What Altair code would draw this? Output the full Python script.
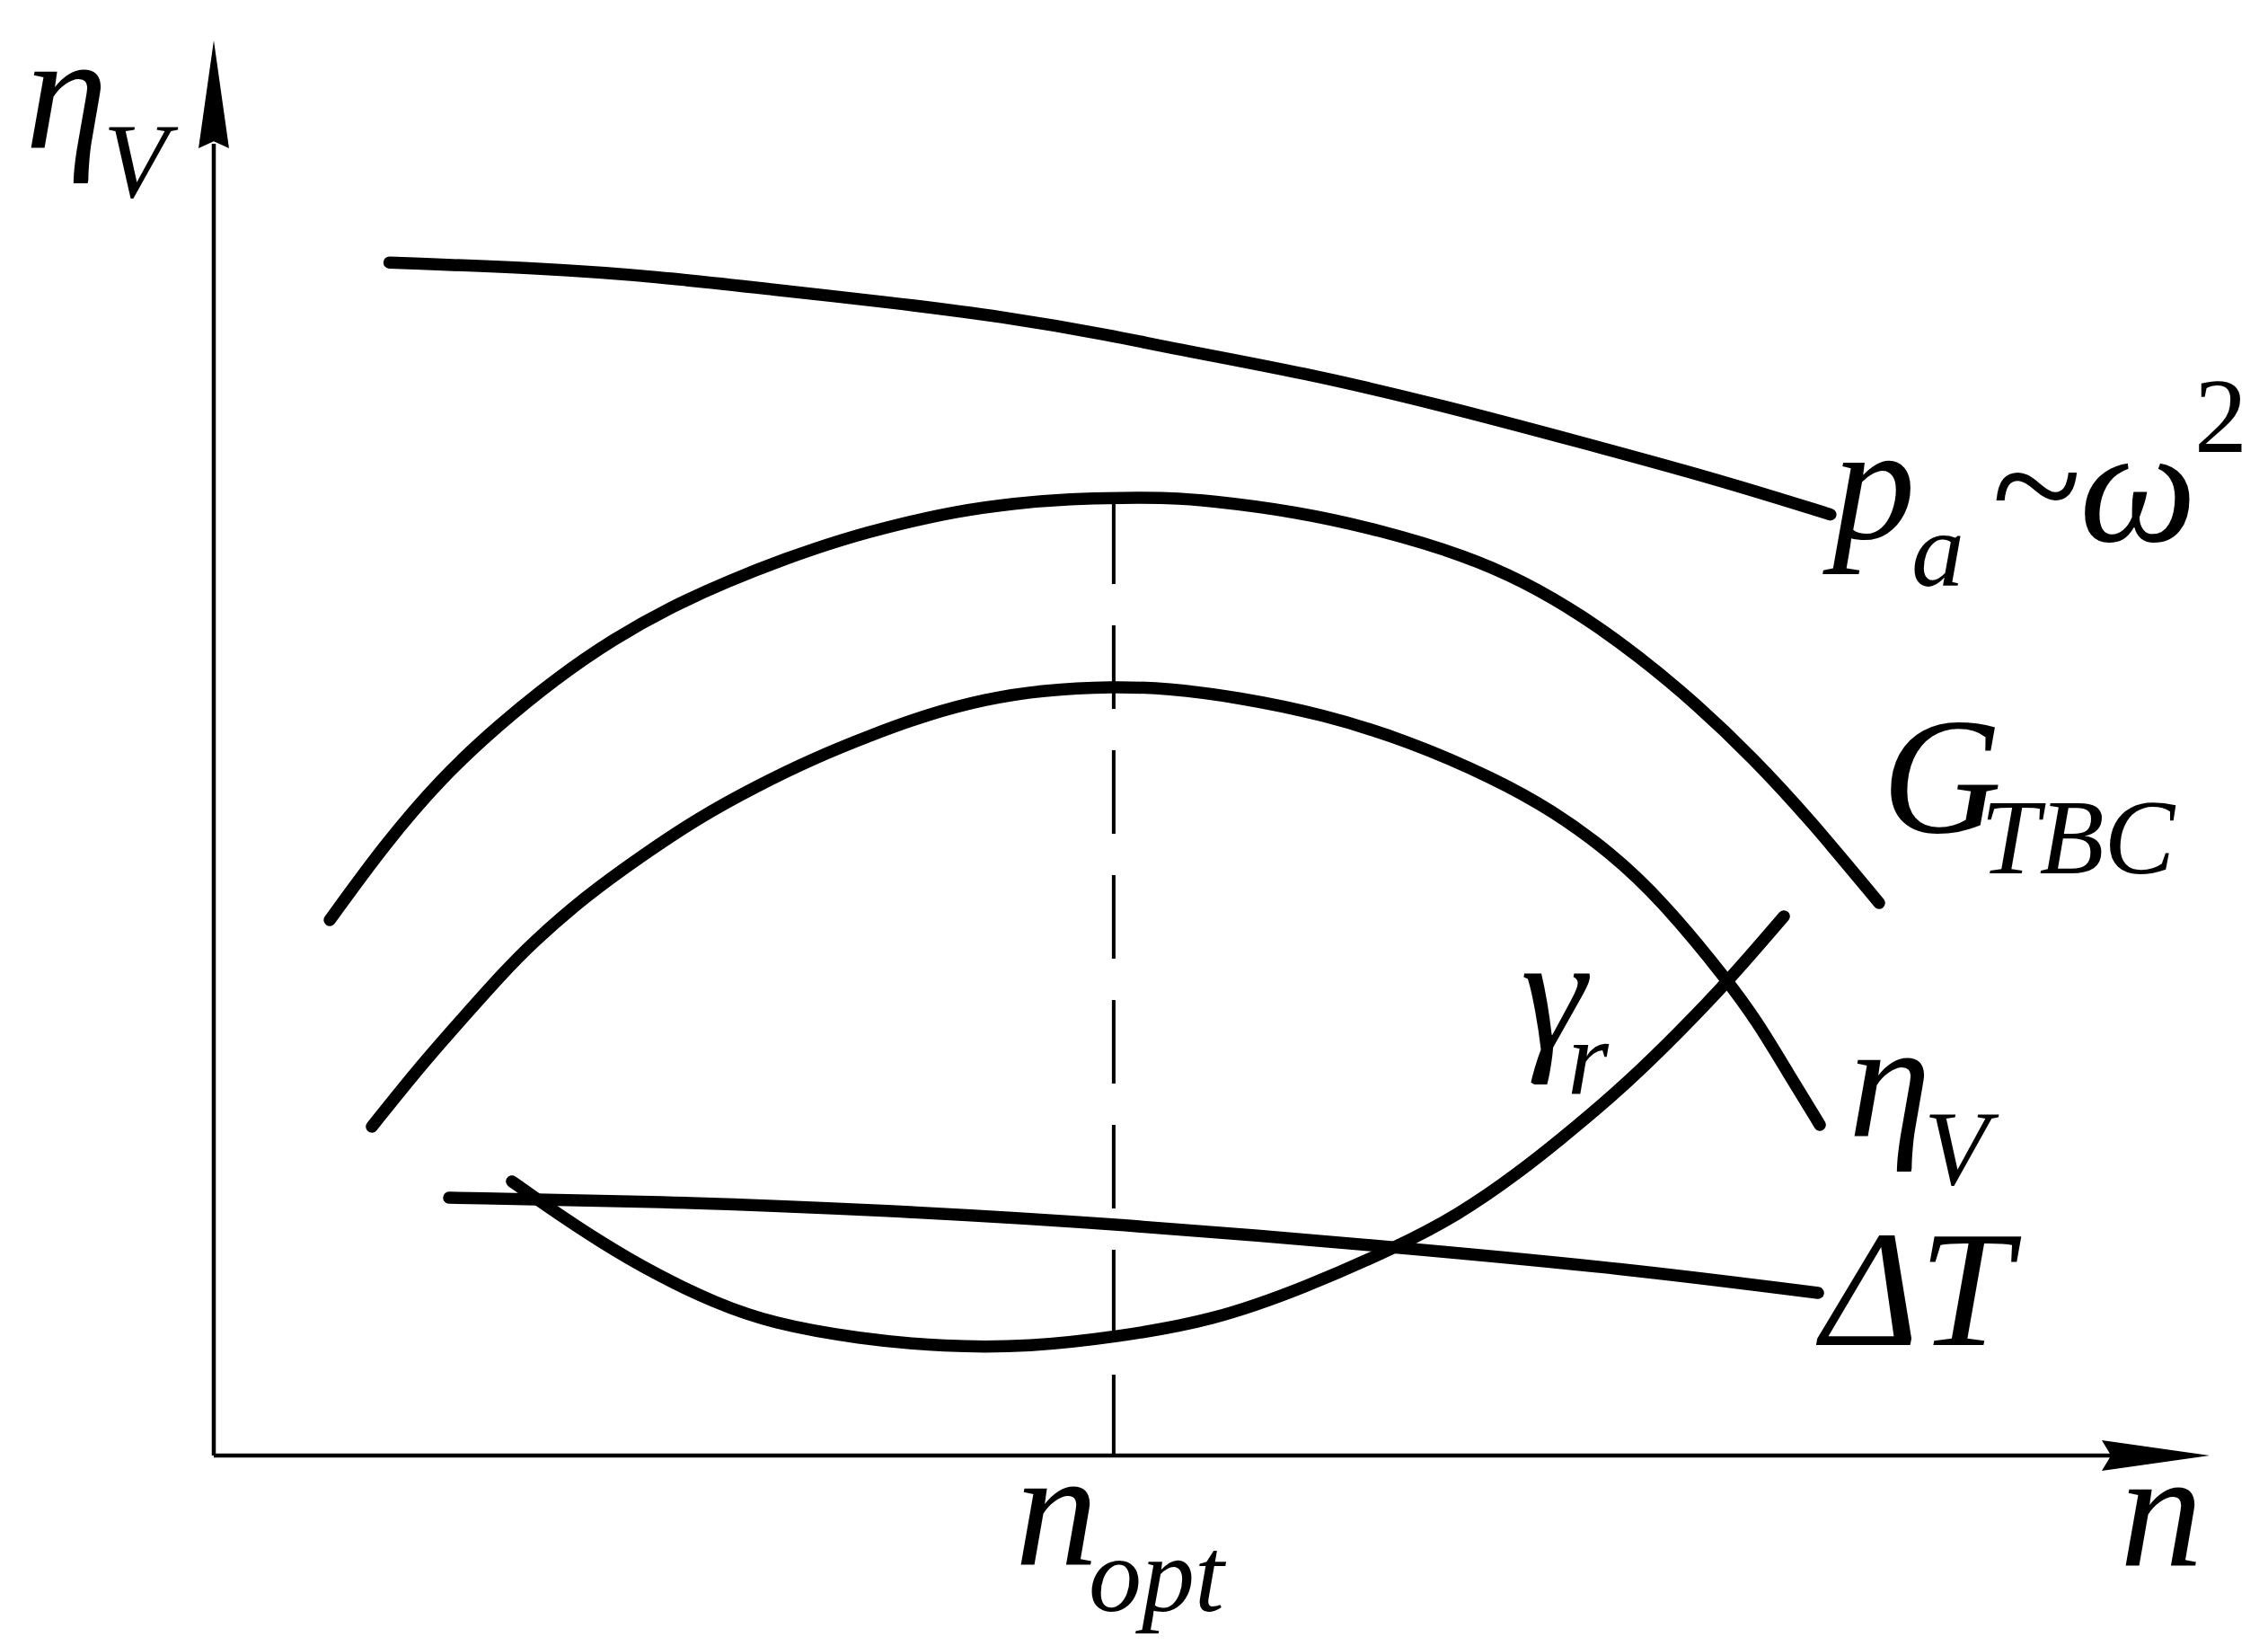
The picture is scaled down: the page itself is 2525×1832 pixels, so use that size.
import altair as alt
import pandas as pd

# ---------------- data (arbitrary units: both axes run 0..100 up to the arrow tips) -------------
pa_n = [8.8, 16.5, 22.3, 28.0, 33.8, 39.5, 45.2, 47.8, 54.7, 61.6, 68.5, 75.3, 81.0]
pa_v = [84.3, 83.9, 83.3, 82.4, 81.5, 80.5, 79.1, 78.3, 76.5, 74.2, 71.6, 69.0, 66.5]

g_n = [5.81, 8.55, 11.39, 14.27, 17.15, 20.03, 22.86, 25.74, 28.62, 31.50, 34.38, 37.22, 40.10,
       42.98, 45.54, 47.79, 49.86, 54.14, 58.46, 62.78, 65.62, 68.50, 71.38, 74.26, 77.14, 79.97, 83.44]
g_v = [37.84, 43.17, 47.87, 51.62, 54.92, 57.71, 59.94, 61.78, 63.37, 64.76, 65.84, 66.73, 67.30,
       67.62, 67.68, 67.68, 67.49, 66.73, 65.40, 63.56, 61.78, 59.43, 56.51, 53.14, 49.27, 44.95, 39.05]

eta_n = [7.92, 10.22, 12.20, 14.49, 15.93, 18.59, 21.47, 24.30, 27.18, 30.06, 32.94, 35.78, 38.66,
         41.54, 45.05, 47.79, 51.31, 55.58, 59.90, 64.22, 67.06, 69.94, 72.55, 75.88, 77.36, 78.85, 80.47]
eta_v = [23.24, 27.30, 30.48, 34.10, 36.19, 39.49, 42.41, 45.08, 47.30, 49.27, 50.92, 52.38, 53.46,
         54.10, 54.35, 54.22, 53.59, 52.38, 50.48, 47.81, 45.59, 42.67, 39.24, 33.52, 30.60, 27.11, 23.37]

gam_n = [14.94, 16.52, 19.40, 22.28, 25.11, 27.99, 32.31, 36.59, 40.91, 45.23, 50.05, 54.68, 59.27,
         62.29, 65.30, 68.32, 70.93, 73.36, 75.88, 78.67]
gam_v = [19.37, 17.78, 15.05, 12.70, 10.79, 9.33, 8.25, 7.68, 7.68, 8.38, 9.52, 11.87, 14.73,
         16.95, 19.87, 23.30, 26.48, 29.84, 33.52, 38.10]

dt_n = [11.79, 22.28, 33.75, 45.23, 59.27, 70.75, 80.38]
dt_v = [18.22, 17.97, 17.33, 16.38, 14.73, 13.21, 11.49]

n_opt = 45.09
n_opt_top = 67.49

# labels (text, n, value)
main_txt = ["η", "p", "~ω", "G", "γ", "η", "ΔT", "n", "n"]
main_n = [-9.45, 81.10, 88.97, 83.57, 65.48, 81.91, 80.56, 40.14, 95.50]
main_v = [92.38, 64.76, 64.63, 44.06, 28.70, 22.54, 7.81, -7.75, -7.81]

sub_txt = ["V", "a", "TBC", "r", "V", "opt"]
sub_n = [-5.54, 85.06, 88.52, 67.82, 85.69, 43.83]
sub_v = [88.95, 61.46, 41.14, 25.52, 19.17, -10.98]

sup_txt = ["2"]
sup_n = [99.23]
sup_v = [70.92]

# ---------------- layout -------------------------------------------------------------------------
PLOT_W, PLOT_H = 2505, 1812
X0_PX, Y0_PX = 230, 1612          # origin inside the plot area
PX_PER_X, PX_PER_Y = 22.22, 15.75
x_dom = [-X0_PX / PX_PER_X, (PLOT_W - X0_PX) / PX_PER_X]
y_dom = [-(PLOT_H - Y0_PX) / PX_PER_Y, Y0_PX / PX_PER_Y]
xs = alt.Scale(domain=x_dom, nice=False, zero=False)
ys = alt.Scale(domain=y_dom, nice=False, zero=False)

FONT = "Liberation Serif"
BIG, SMALL = 185, 118

rows = []
for name, ns, vs in [("pa", pa_n, pa_v), ("G", g_n, g_v), ("eta", eta_n, eta_v),
                     ("gamma", gam_n, gam_v), ("dT", dt_n, dt_v)]:
    for i, (a, b) in enumerate(zip(ns, vs)):
        rows.append({"curve": name, "n": a, "v": b, "i": i})
curves_df = pd.DataFrame(rows)

X = lambda f: alt.X(f, type="quantitative", scale=xs, axis=None)
Y = lambda f: alt.Y(f, type="quantitative", scale=ys, axis=None)

curves = alt.Chart(curves_df).mark_line(
    color="black", strokeWidth=13.5, strokeCap="round", strokeJoin="round", interpolate="basis"
).encode(x=X("n"), y=Y("v"), detail="curve:N", order="i:Q")

axes_df = pd.DataFrame({"n": [0, 0], "v": [0, 0], "n2": [0, 95.05], "v2": [92.7, 0]})
axes = alt.Chart(axes_df).mark_rule(color="black", strokeWidth=4.5).encode(
    x=X("n"), y=Y("v"), x2="n2:Q", y2="v2:Q")

dash_df = pd.DataFrame({"n": [n_opt], "v": [n_opt_top], "v2": [0]})
dashed = alt.Chart(dash_df).mark_rule(color="black", strokeWidth=4, strokeDash=[93, 46]).encode(
    x=X("n"), y=Y("v"), y2="v2:Q")

up_arrow = alt.Chart(pd.DataFrame({"n": [0], "v": [96.19]})).mark_point(
    shape="M0,-1L0.283,1L0,0.87L-0.283,1Z", size=14400, filled=True, color="black",
    opacity=1, strokeWidth=0).encode(x=X("n"), y=Y("v"))
right_arrow = alt.Chart(pd.DataFrame({"n": [97.30], "v": [0]})).mark_point(
    shape="M1,0L-1,-0.283L-0.83,0L-1,0.283Z", size=14400, filled=True, color="black",
    opacity=1, strokeWidth=0).encode(x=X("n"), y=Y("v"))

def text_layer(t, ns, vs, size, style):
    df = pd.DataFrame({"t": t, "n": ns, "v": vs})
    return alt.Chart(df).mark_text(
        font=FONT, fontSize=size, fontStyle=style, align="left", baseline="alphabetic",
        color="black").encode(x=X("n"), y=Y("v"), text="t:N")

labels_main = text_layer(main_txt, main_n, main_v, BIG, "italic")
labels_sub = text_layer(sub_txt, sub_n, sub_v, SMALL, "italic")
labels_sup = text_layer(sup_txt, sup_n, sup_v, SMALL, "normal")

chart = alt.layer(
    axes, dashed, curves, up_arrow, right_arrow, labels_main, labels_sub, labels_sup
).properties(
    width=PLOT_W, height=PLOT_H, padding=0,
    autosize=alt.AutoSizeParams(type="none"), background="white"
).configure_view(stroke=None)

chart.save("out.html", embed_options={"renderer": "svg", "actions": False})
